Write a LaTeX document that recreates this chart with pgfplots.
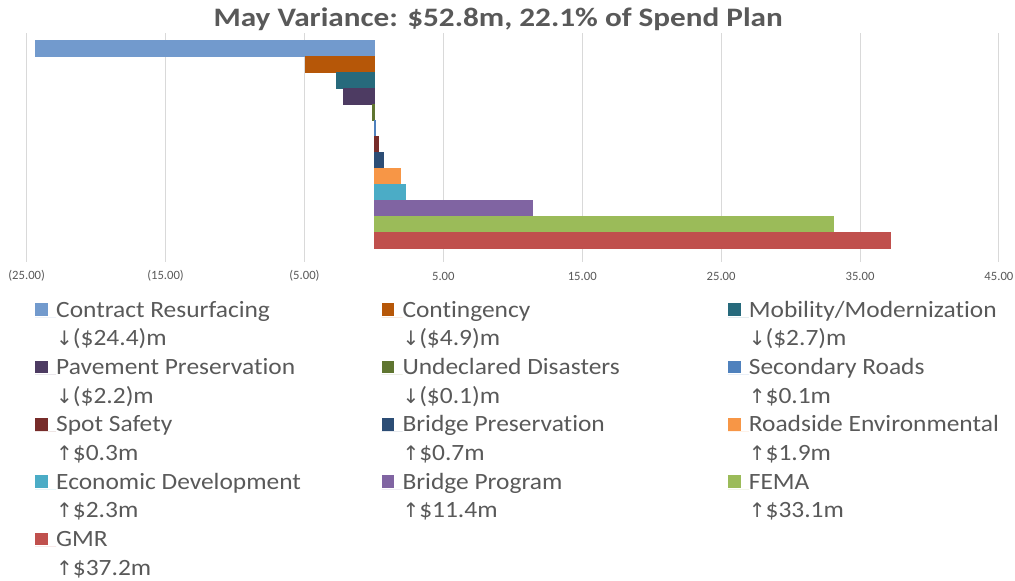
\documentclass[border=0pt]{standalone}
\usepackage{pgfplots}
\pgfplotsset{compat=1.18}
\usepackage{fontspec}
\setmainfont{Carlito}[Ligatures=NoCommon]
\newfontfamily\dv{DejaVu Sans}
\newfontfamily\wide{Carlito}[FakeStretch=1.09,Ligatures=NoCommon]
\newfontfamily\widettl{Carlito}[FakeStretch=1.17,Ligatures=NoCommon]
\definecolor{txt}{HTML}{595959}
\definecolor{grd}{HTML}{D9D9D9}
\definecolor{c1}{HTML}{729ACD}
\definecolor{c2}{HTML}{B65708}
\definecolor{c3}{HTML}{276A7C}
\definecolor{c4}{HTML}{4D3B62}
\definecolor{c5}{HTML}{5F7530}
\definecolor{c6}{HTML}{4F81BD}
\definecolor{c7}{HTML}{772C2A}
\definecolor{c8}{HTML}{2C4D75}
\definecolor{c9}{HTML}{F79646}
\definecolor{c10}{HTML}{4BACC6}
\definecolor{c11}{HTML}{8064A2}
\definecolor{c12}{HTML}{9BBB59}
\definecolor{c13}{HTML}{C0504D}
\newcommand{\dn}{{\dv\fontsize{15}{21.5}\selectfont ↓}}
\newcommand{\up}{{\dv\fontsize{15}{21.5}\selectfont ↑}}
\newcommand{\ent}[2]{\begin{tabular}[t]{@{}p{244pt}@{}}#1\\#2\end{tabular}}
\begin{document}
\begin{tikzpicture}
\begin{axis}[
  name=ax,
  scale only axis,
  width=729.2pt, height=171.75pt,
  xbar, bar width=12pt, bar shift=0pt,
  y dir=reverse,
  xmin=-25, xmax=45,
  ymin=-0.97, ymax=13.34,
  ytick=\empty,
  xtick={-25,-15,-5,5,15,25,35,45},
  xticklabels={(25.00),(15.00),(5.00),5.00,15.00,25.00,35.00,45.00},
  xticklabel style={font=\fontsize{9.5}{11}\selectfont, text=txt, anchor=center, yshift=-10.5pt},
  /pgf/number format/assume math mode=true,
  xmajorgrids, grid style={grd, line width=0.75pt},
  major tick length=0pt,
  axis line style={draw=none},
  clip=false,
  legend columns=3,
  legend style={draw=none, fill=none, at={(axis description cs:0.0085,-0.1515)}, anchor=north west,
    inner sep=0pt, column sep=0pt, row sep=0pt,
    font=\wide\fontsize{17.5}{21.5}\selectfont, text=txt,
    nodes={inner sep=0pt, text depth={}, anchor=base west},
    cells={anchor=base west}},
  legend image code/.code={\fill[#1,draw=none] (0pt,0.75pt) rectangle (9.5pt,10.25pt); \path[draw=none] (0pt,0pt) -- (15.75pt,0pt);},
  every axis plot/.append style={line width=0.6pt},
]
\addplot[fill=c1, draw=c1] coordinates {(-24.4,0)};
\addlegendentry{\ent{Contract Resurfacing}{\dn(\$24.4)m}}
\addplot[fill=c2, draw=c2] coordinates {(-4.9,1)};
\addlegendentry{\ent{Contingency}{\dn(\$4.9)m}}
\addplot[fill=c3, draw=c3] coordinates {(-2.7,2)};
\addlegendentry{\ent{Mobility/Modernization}{\dn(\$2.7)m}}
\addplot[fill=c4, draw=c4] coordinates {(-2.2,3)};
\addlegendentry{\ent{Pavement Preservation}{\dn(\$2.2)m}}
\addplot[fill=c5, draw=c5] coordinates {(-0.1,4)};
\addlegendentry{\ent{Undeclared Disasters}{\dn(\$0.1)m}}
\addplot[fill=c6, draw=c6] coordinates {(0.1,5)};
\addlegendentry{\ent{Secondary Roads}{\up\$0.1m}}
\addplot[fill=c7, draw=c7] coordinates {(0.3,6)};
\addlegendentry{\ent{Spot Safety}{\up\$0.3m}}
\addplot[fill=c8, draw=c8] coordinates {(0.7,7)};
\addlegendentry{\ent{Bridge Preservation}{\up\$0.7m}}
\addplot[fill=c9, draw=c9] coordinates {(1.9,8)};
\addlegendentry{\ent{Roadside Environmental}{\up\$1.9m}}
\addplot[fill=c10, draw=c10] coordinates {(2.3,9)};
\addlegendentry{\ent{Economic Development}{\up\$2.3m}}
\addplot[fill=c11, draw=c11] coordinates {(11.4,10)};
\addlegendentry{\ent{Bridge Program}{\up\$11.4m}}
\addplot[fill=c12, draw=c12] coordinates {(33.1,11)};
\addlegendentry{\ent{FEMA}{\up\$33.1m}}
\addplot[fill=c13, draw=c13] coordinates {(37.2,12)};
\addlegendentry{\ent{GMR}{\up\$37.2m}}
\node[anchor=base, font=\widettl\bfseries\fontsize{20}{23}\selectfont, text=txt] at ([yshift=5.25pt]axis description cs:0.485,1) {May Variance: \$52.8m, 22.1\% of Spend Plan};
\end{axis}
\pgfresetboundingbox
\path ([shift={(-20pt,-239.25pt)}]ax.south west) rectangle ++(761.25pt,435.75pt);
\end{tikzpicture}
\end{document}
